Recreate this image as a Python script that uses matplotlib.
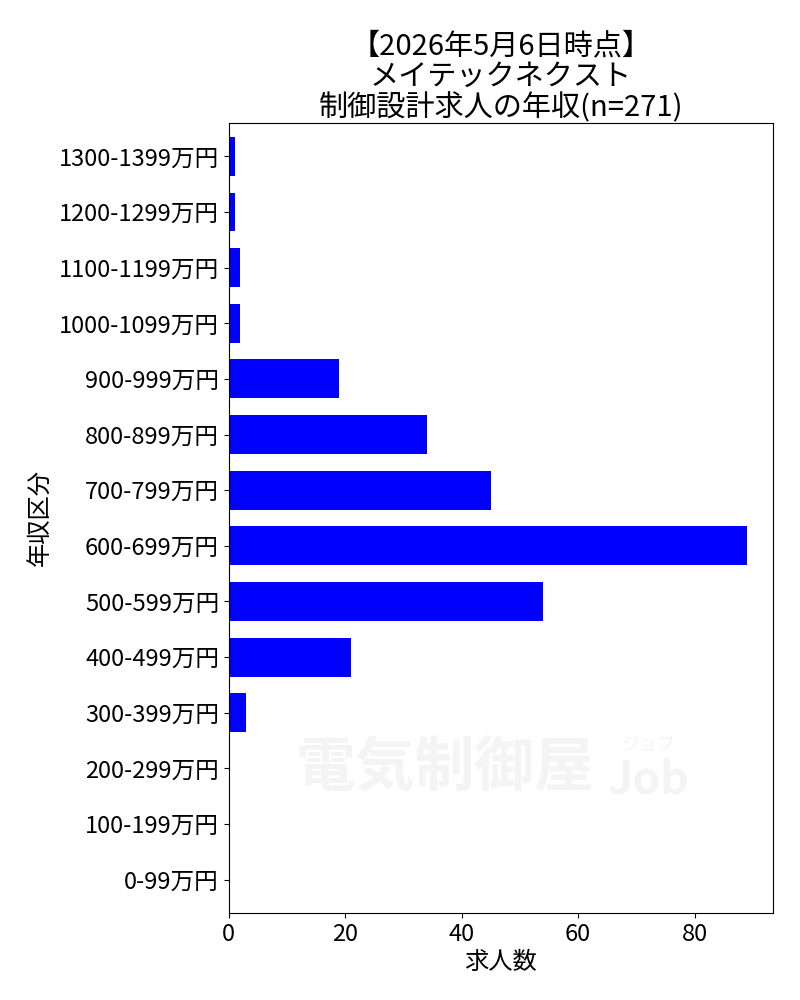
import matplotlib
matplotlib.use("Agg")
import matplotlib.pyplot as plt

plt.rcParams['font.family'] = ['Noto Sans CJK JP', 'DejaVu Sans']

# data (bottom to top)
categories = ["0-99万円", "100-199万円", "200-299万円", "300-399万円", "400-499万円",
              "500-599万円", "600-699万円", "700-799万円", "800-899万円", "900-999万円",
              "1000-1099万円", "1100-1199万円", "1200-1299万円", "1300-1399万円"]
counts = [0, 0, 0, 3, 21, 54, 89, 45, 34, 19, 2, 2, 1, 1]
xticks = [0, 20, 40, 60, 80]

fig = plt.figure(figsize=(8, 10), dpi=100)
ax = fig.add_axes([0.286, 0.087, 0.680, 0.790])

ax.barh(categories, counts, height=0.7, color='blue')
ax.set_xlim(0, max(counts) * 1.05)
ax.set_ylim(-0.6, len(categories) - 0.4)
ax.set_xticks(xticks)
ax.tick_params(axis='both', labelsize=17)

ax.set_xlabel("求人数", fontsize=17.5, labelpad=2)
ax.set_ylabel("年収区分", fontsize=17.5)
ax.set_title("【2026年5月6日時点】\nメイテックネクスト\n制御設計求人の年収(n=271)",
             fontsize=21, linespacing=1.02, pad=4)

# faint watermark
fig.text(0.556, 0.232, "電気制御屋", fontsize=43, color='#f4f4f4', ha='center', va='center',
         fontweight='bold', zorder=0)
fig.text(0.81, 0.220, "Job", fontsize=32, color='#f4f4f4', ha='center', va='center',
         fontweight='bold', zorder=0)
fig.text(0.81, 0.255, "ジョブ", fontsize=13, color='#f4f4f4', ha='center', va='center', zorder=0)
ax.set_facecolor('none')

fig.savefig("out.png", dpi=100, facecolor='white')
